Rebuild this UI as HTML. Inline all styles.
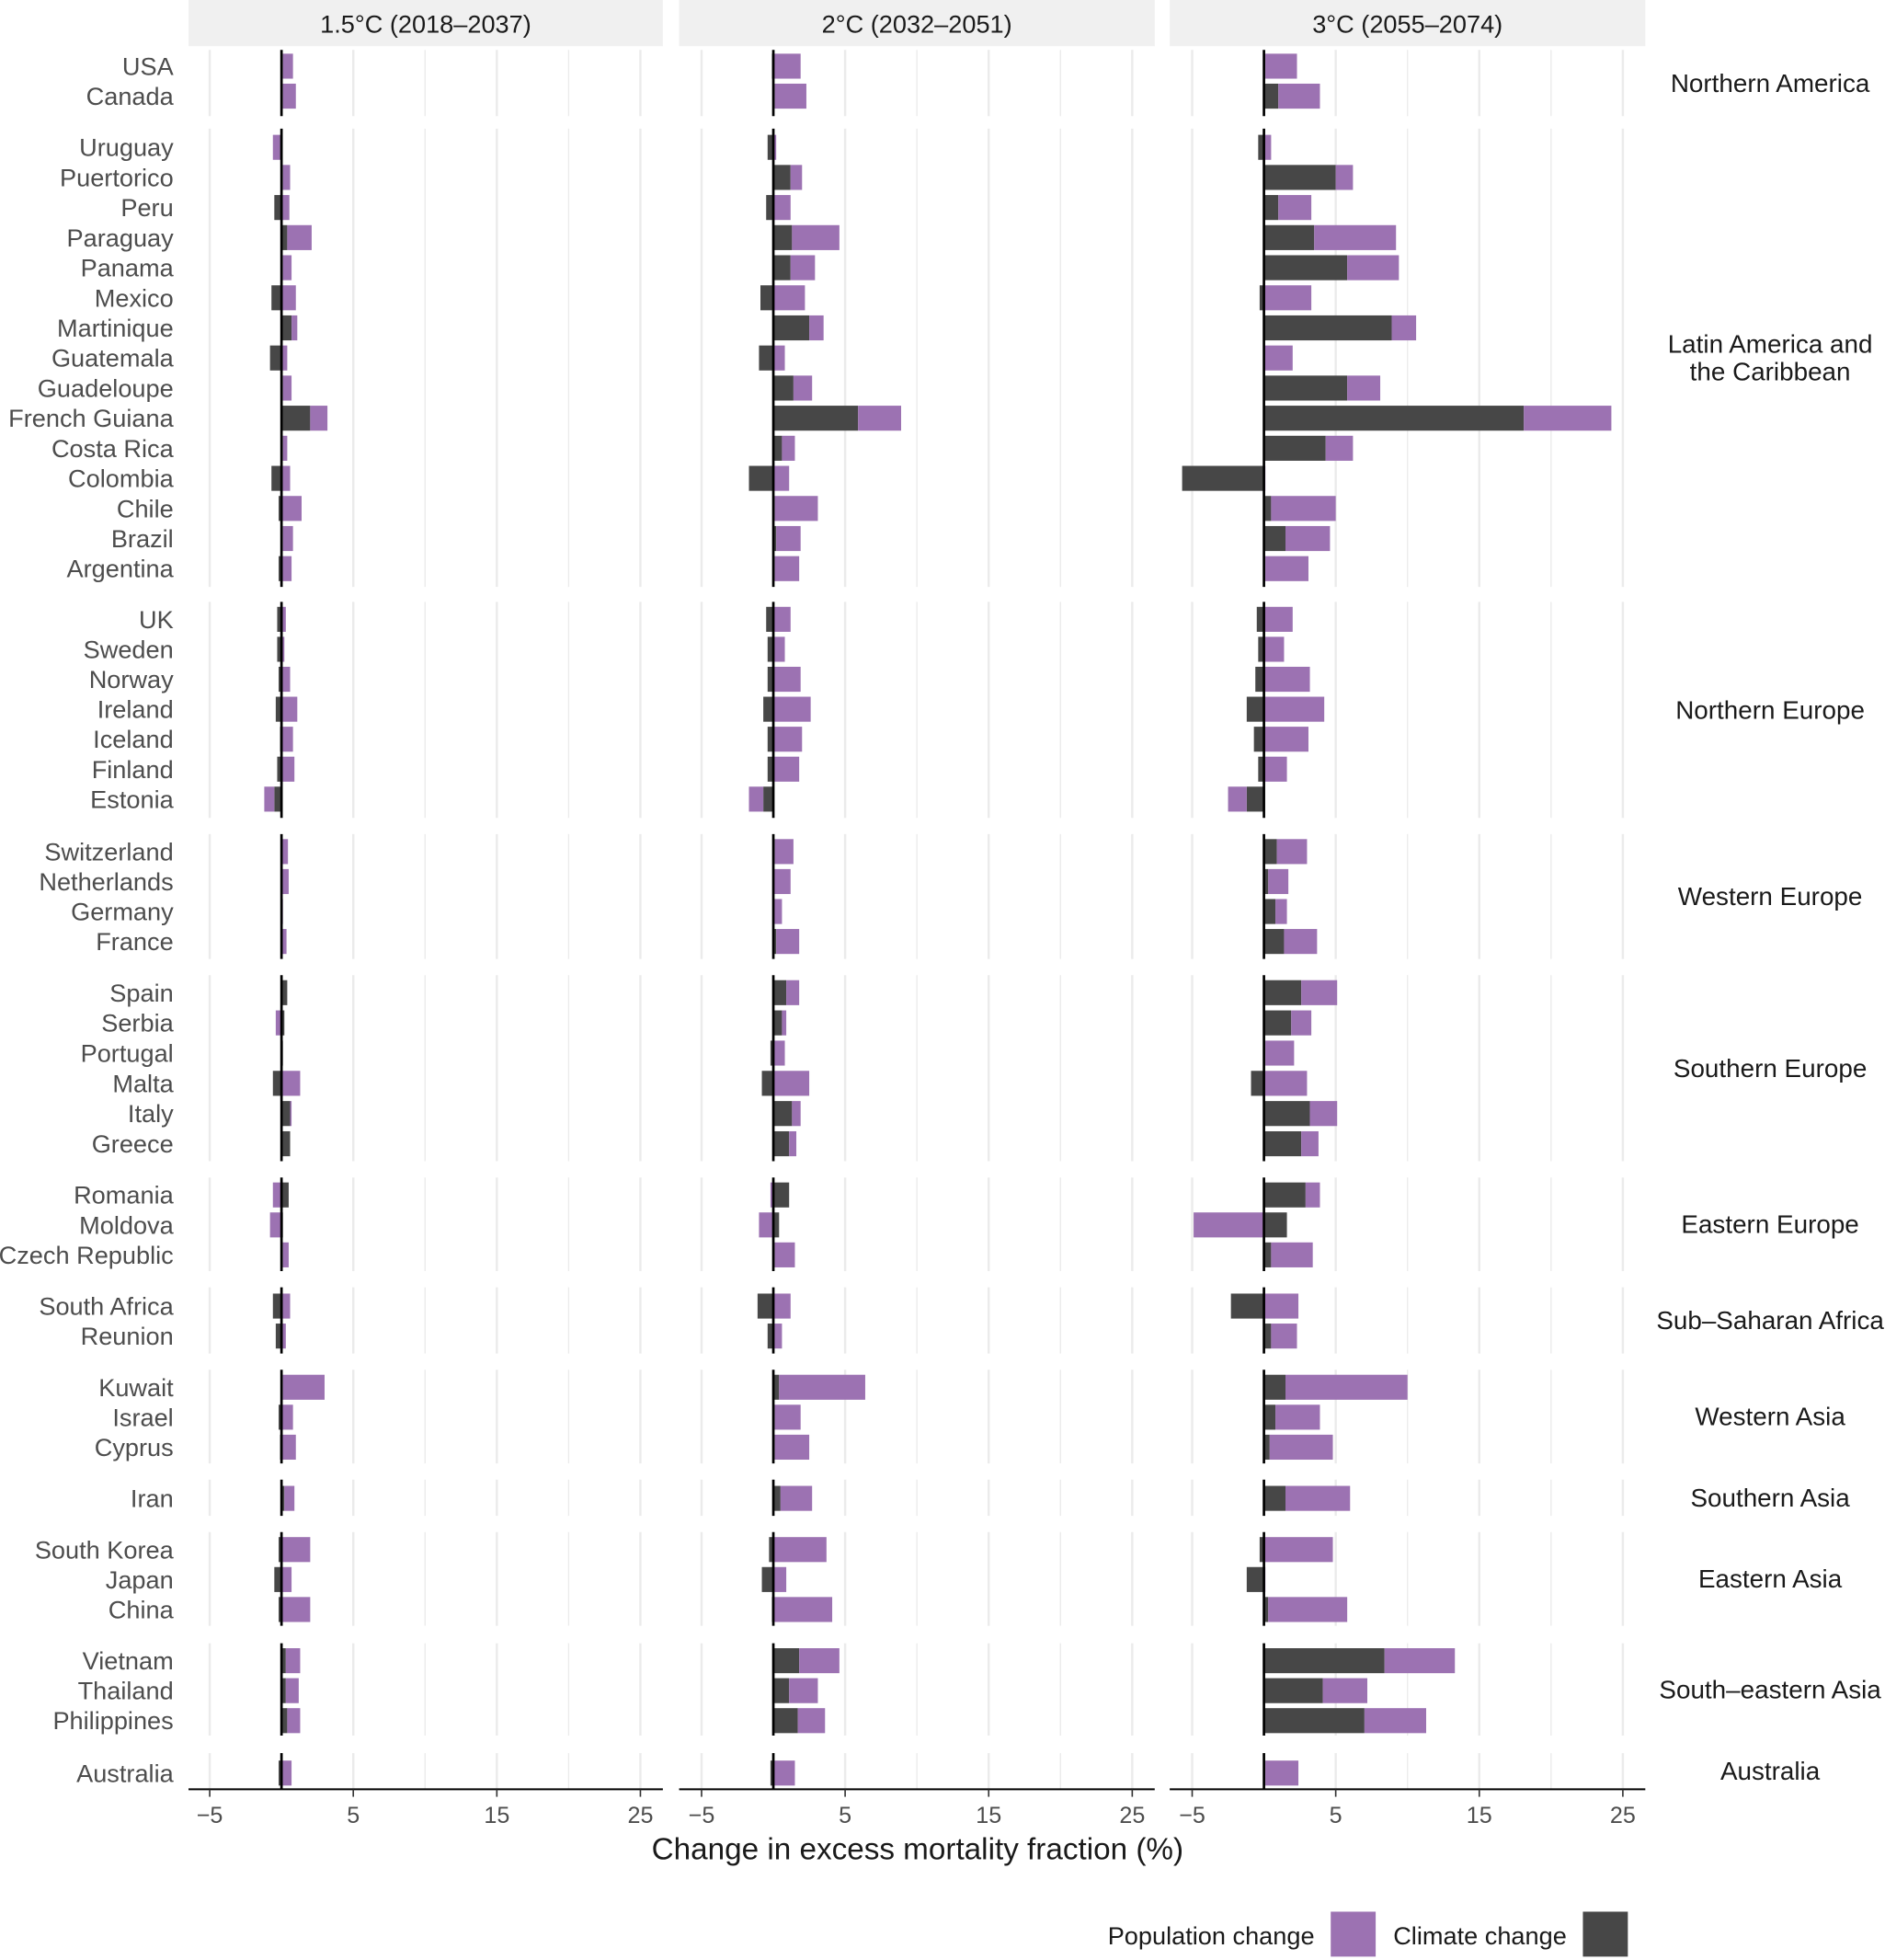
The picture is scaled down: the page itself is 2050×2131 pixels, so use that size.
<!DOCTYPE html>
<html><head><meta charset="utf-8">
<style>html,body{margin:0;padding:0;background:#fff;}svg{display:block;}
text{font-family:"Liberation Sans",Arial,sans-serif;fill:#4d4d4d;}</style></head>
<body>
<svg id="s" xmlns="http://www.w3.org/2000/svg" width="2050" height="2131" viewBox="0 0 1510 1569.7" preserveAspectRatio="none"></svg>
<script>
const NS="http://www.w3.org/2000/svg";const s=document.getElementById('s');
function el(t,a,txt){const e=document.createElementNS(NS,t);for(const k in a)e.setAttribute(k,a[k]);if(txt!=null)e.textContent=txt;s.appendChild(e);return e;}
const groups=[
["Northern America",40,93,[["USA",53],["Canada",77]]],
["Latin America and|the Caribbean",103,470,["Uruguay","Puertorico","Peru","Paraguay","Panama","Mexico","Martinique","Guatemala","Guadeloupe","French Guiana","Costa Rica","Colombia","Chile","Brazil","Argentina"].map((n,i)=>[n,118+i*24.1])],
["Northern Europe",482,655,["UK","Sweden","Norway","Ireland","Iceland","Finland","Estonia"].map((n,i)=>[n,496+i*24])],
["Western Europe",668,768,["Switzerland","Netherlands","Germany","France"].map((n,i)=>[n,682+i*24])],
["Southern Europe",781,930,["Spain","Serbia","Portugal","Malta","Italy","Greece"].map((n,i)=>[n,795+i*24.2])],
["Eastern Europe",943,1018,[["Romania",957],["Moldova",981],["Czech Republic",1005]]],
["Sub\u2013Saharan Africa",1031,1084,[["South Africa",1046],["Reunion",1070]]],
["Western Asia",1097,1172,[["Kuwait",1111],["Israel",1135],["Cyprus",1159]]],
["Southern Asia",1185,1214,[["Iran",1200]]],
["Eastern Asia",1227,1302,[["South Korea",1241],["Japan",1265],["China",1289]]],
["South\u2013eastern Asia",1316,1390,[["Vietnam",1330],["Thailand",1354],["Philippines",1378]]],
["Australia",1404,1433,[["Australia",1420]]]];
const D={
USA:[[.1,.7],[-.1,1.9],[.1,2.2]],Canada:[[.1,.9],[.1,2.2],[1,2.9]],
Uruguay:[[-.1,-.5],[-.4,.2],[-.4,.5]],Puertorico:[[.1,.5],[1.2,.8],[5,1.2]],
Peru:[[-.5,.55],[-.5,1.2],[1,2.3]],Paraguay:[[.4,1.7],[1.3,3.3],[3.5,5.7]],
Panama:[[.1,.6],[1.2,1.7],[5.8,3.6]],Mexico:[[-.7,1],[-.9,2.2],[-.3,3.3]],
Martinique:[[.7,.4],[2.5,1],[8.9,1.7]],Guatemala:[[-.8,.4],[-1,.8],[0,2]],
Guadeloupe:[[.1,.6],[1.4,1.3],[5.8,2.3]],"French Guiana":[[2,1.2],[5.9,3],[18.1,6.1]],
"Costa Rica":[[.1,.3],[.6,.9],[4.3,1.9]],Colombia:[[-.7,.6],[-1.7,1.1],[-5.7,.1]],
Chile:[[-.2,1.4],[.1,3],[.5,4.5]],Brazil:[[.1,.7],[.2,1.7],[1.5,3.1]],Argentina:[[-.2,.7],[.1,1.7],[.1,3]],
UK:[[-.3,.3],[-.5,1.2],[-.5,2]],Sweden:[[-.3,.2],[-.4,.8],[-.4,1.4]],Norway:[[-.2,.6],[-.4,1.9],[-.6,3.2]],
Ireland:[[-.4,1.1],[-.7,2.6],[-1.2,4.2]],Iceland:[[-.1,.8],[-.4,2],[-.7,3.1]],Finland:[[-.3,.9],[-.4,1.8],[-.4,1.6]],
Estonia:[[-.5,-.7],[-.7,-1],[-1.2,-1.3]],
Switzerland:[[.05,.4],[.1,1.3],[.9,2.1]],Netherlands:[[0,.5],[0,1.2],[.3,1.4]],Germany:[[0,.1],[0,.6],[.8,.8]],France:[[.05,.3],[.2,1.6],[1.4,2.3]],
Spain:[[.4,0],[.9,.9],[2.6,2.5]],Serbia:[[.2,-.4],[.6,.3],[1.9,1.4]],Portugal:[[.1,0],[-.2,.8],[.1,2]],
Malta:[[-.6,1.3],[-.8,2.5],[-.9,3]],Italy:[[.6,.1],[1.3,.6],[3.2,1.9]],Greece:[[.6,0],[1.1,.5],[2.6,1.2]],
Romania:[[.5,-.6],[1.1,-.2],[2.9,1]],Moldova:[[.1,-.8],[.4,-1],[1.6,-4.9]],"Czech Republic":[[.1,.4],[.1,1.4],[.5,2.9]],
"South Africa":[[-.6,.6],[-1.1,1.2],[-2.3,2.4]],Reunion:[[-.4,.3],[-.4,.6],[.5,1.8]],
Kuwait:[[.1,2.9],[.4,6],[1.5,8.5]],Israel:[[-.2,.8],[.1,1.8],[.8,3.1]],Cyprus:[[-.1,1],[.1,2.4],[.4,4.4]],
Iran:[[.2,.7],[.5,2.2],[1.5,4.5]],"South Korea":[[-.2,2],[-.3,3.7],[-.3,4.8]],Japan:[[-.5,.7],[-.8,.9],[-1.2,.1]],
China:[[-.2,2],[-.1,4.1],[.3,5.5]],Vietnam:[[.3,1],[1.8,2.8],[8.4,4.9]],Thailand:[[.3,.9],[1.1,2],[4.1,3.1]],
Philippines:[[.4,.9],[1.7,1.9],[7,4.3]],Australia:[[-.2,.7],[-.2,1.5],[.1,2.3]]};
const panels=[[151,531,225.5,"1.5°C (2018–2037)"],[544,925,619.5,"2°C (2032–2051)"],[937,1318,1012.5,"3°C (2055–2074)"]];
const U=11.5,P="#9c72b2",K="#474747";
panels.forEach(([x0,x1,z,t],pi)=>{
  el('rect',{x:x0,y:0,width:x1-x0,height:37,fill:'#f0f0f0'});
  el('text',{x:(x0+x1)/2,y:26,'font-size':20,'text-anchor':'middle',style:'fill:#1a1a1a'},t);
  groups.forEach(g=>{
    for(let v=-5;v<=25;v+=5){const x=z+v*U;el('line',{x1:x,x2:x,y1:g[1],y2:g[2],stroke:'#ebebeb','stroke-width':v%10==5||v==-5?1.8:1});}
    g[3].forEach(([n,y])=>{const [d,p]=D[n][pi];
      const r=(a,b,c)=>{const l=Math.min(a,b),h=Math.max(a,b);if(h-l<0.001)return;el('rect',{x:z+l*U,y:y-10,width:(h-l)*U,height:20,fill:c});};
      r(0,d,K);
      if(d*p>=0) r(d,d+p,P); else r(0,p,P);
    });
    el('line',{x1:z,x2:z,y1:g[1],y2:g[2],stroke:'#000','stroke-width':2});
  });
  el('line',{x1:x0,x2:x1,y1:1433,y2:1433,stroke:'#000','stroke-width':1.5});
  [-5,5,15,25].forEach(v=>{const x=z+v*U;el('line',{x1:x,x2:x,y1:1433,y2:1439,stroke:'#333','stroke-width':1.2});
    el('text',{x:x,y:1460,'font-size':18.5,'text-anchor':'middle'},v<0?'\u2212'+(-v):v);});
});
groups.forEach(g=>{
  g[3].forEach(([n,y])=>el('text',{x:139,y:y+7,'font-size':20,'text-anchor':'end'},n));
  const my=(g[1]+g[2])/2;const parts=g[0].split('|');
  parts.forEach((p,i)=>el('text',{x:1418,y:my+7+(i-(parts.length-1)/2)*22,'font-size':20.5,'text-anchor':'middle',style:'fill:#1a1a1a'},p));
});
el('text',{x:735,y:1489,'font-size':24.5,'text-anchor':'middle',style:'fill:#1a1a1a'},'Change in excess mortality fraction (%)');
el('text',{x:1053,y:1557,'font-size':20,'text-anchor':'end',style:'fill:#1a1a1a'},'Population change');
el('rect',{x:1066,y:1531,width:36,height:36,fill:P});
el('text',{x:1255,y:1557,'font-size':20,'text-anchor':'end',style:'fill:#1a1a1a'},'Climate change');
el('rect',{x:1268,y:1531,width:36,height:36,fill:K});
</script>
</body></html>
